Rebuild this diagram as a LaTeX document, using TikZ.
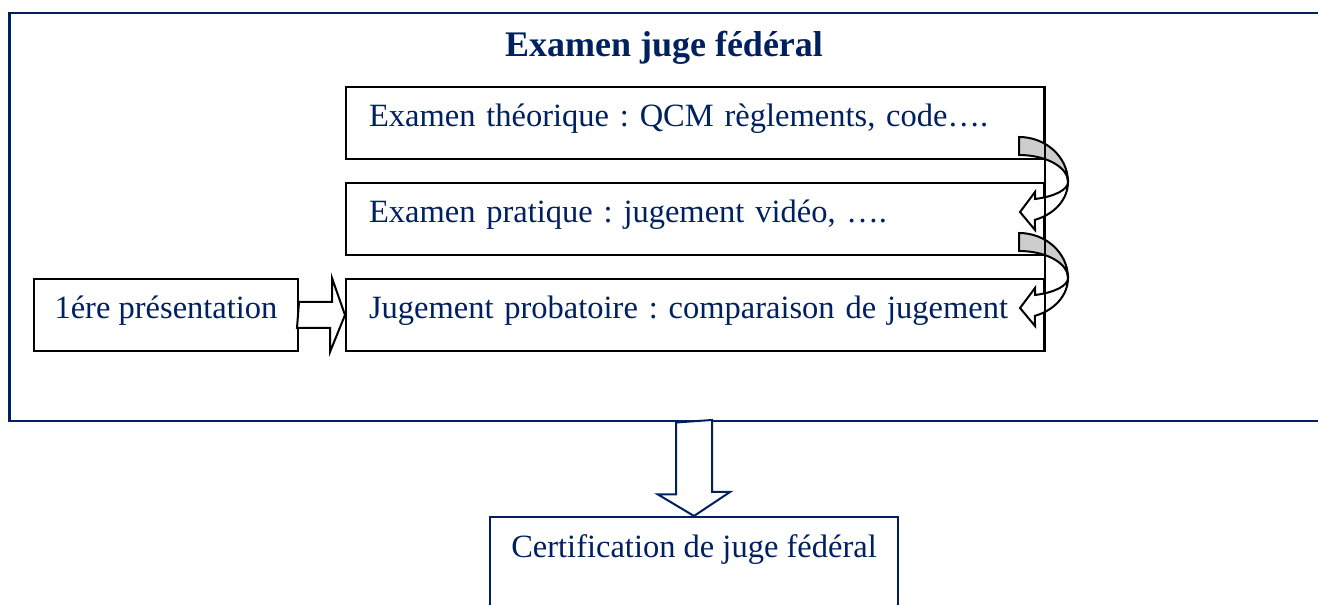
\documentclass[tikz,border=0pt]{standalone}
\usepackage{fontspec}
\setmainfont{Liberation Serif}
\frenchspacing
\definecolor{navy}{RGB}{0,32,96}
\definecolor{facegray}{RGB}{205,205,205}

\begin{document}
\begin{tikzpicture}[x=1pt, y=1pt,
    boxtext/.style={text=navy, font=\fontsize{32.5}{39}\selectfont},
    stage/.style={boxtext, draw=black, line width=2pt, anchor=north west, minimum width=698pt, minimum height=72pt,
        text width=652pt, inner xsep=22pt, align=left, text height=20pt, text depth=12pt},
    side/.style={boxtext, draw=black, line width=2pt, anchor=north west, minimum width=264pt, minimum height=72pt,
        text height=20pt, text depth=12pt},
    blockarrow/.style={draw=black, fill=white, line width=2pt, line join=miter},
    curvefront/.style={draw=black, fill=facegray, line width=2pt},
    curveback/.style={draw=black, fill=white, line width=2pt}]
        \useasboundingbox (0,0) rectangle (1318,605);
        \clip (0,0) rectangle (1318,605);

        % Exam frame
        \node[draw=navy, line width=2.5pt, anchor=north west, minimum width=1330pt, minimum height=408pt] (exam) at (8,593) {};
        \node[anchor=base, text=navy, font=\fontsize{36}{43}\selectfont\bfseries] (titre) at (664,548) {Examen juge fédéral};

        % Stages
        \node[stage] (theo) at (345,519) {Examen théorique : QCM règlements, code….};
        \node[stage] (prat) at (345,423) {Examen pratique : jugement vidéo, ….};
        \node[stage] (proba) at (345,327) {Jugement probatoire : comparaison de jugement};

        % First presentation
        \node[side] (first) at (33,327) {1ére présentation};
        \draw[blockarrow] (first.east) ++(0,13) -- ++(33,0) -- ++(0,24) -- (proba.west) -- ++(-15,-37)
            -- ++(0,24) -- ++(-33,0) -- cycle;

        % Curved arrows between stages
        \begin{scope}[shift={(theo.south east)}]
            \draw[curveback] (23,-22) arc[start angle=0, end angle=-71, x radius=49, y radius=40]
                -- (-10,-70) -- (-25,-52) -- (-10,-32) -- (-10,-39)
                arc[start angle=-71, end angle=0, x radius=49, y radius=18] -- cycle;
            \draw[curvefront] (-26,23) arc[start angle=90, end angle=0, x radius=49, y radius=45]
                arc[start angle=0, end angle=90, x radius=49, y radius=27] -- cycle;
        \end{scope}
        \begin{scope}[shift={(prat.south east)}]
            \draw[curveback] (23,-22) arc[start angle=0, end angle=-71, x radius=49, y radius=40]
                -- (-10,-70) -- (-25,-52) -- (-10,-32) -- (-10,-39)
                arc[start angle=-71, end angle=0, x radius=49, y radius=18] -- cycle;
            \draw[curvefront] (-26,23) arc[start angle=90, end angle=0, x radius=49, y radius=45]
                arc[start angle=0, end angle=90, x radius=49, y radius=27] -- cycle;
        \end{scope}
        \draw[line width=2pt] (theo.north east) -- (proba.south east);

        % Certification
        \node[boxtext, draw=navy, line width=2pt, anchor=north west, minimum width=408pt, minimum height=120pt,
            text height=20pt, text depth=58pt] (cert) at (489,89) {Certification de juge fédéral};
        \draw[blockarrow, draw=navy] (cert.north |- exam.south) ++(-18,0) -- ++(0,-72) -- ++(-18,0) -- (cert.north)
            -- ++(36,24) -- ++(-18,0) -- ++(0,72) -- cycle;
    \end{tikzpicture}
\end{document}
